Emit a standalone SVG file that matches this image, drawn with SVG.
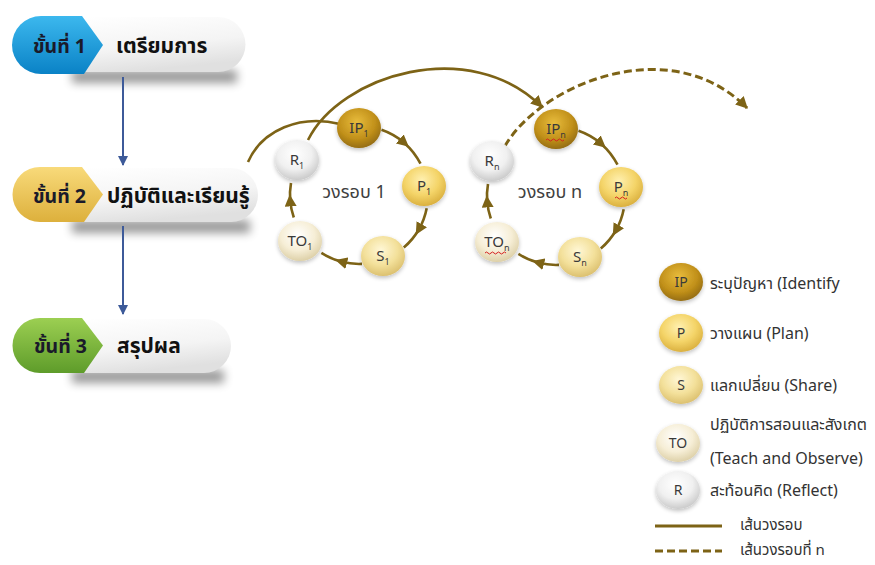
<svg xmlns="http://www.w3.org/2000/svg" width="875" height="565" viewBox="0 0 875 565">
  <defs>
    <style>
      text { font-family: "Noto Sans Thai", "Leelawadee UI", Tahoma, "DejaVu Sans", "Liberation Sans", sans-serif; }
      .step-num { font-size: 19.5px; font-weight: bold; fill: #1a1a2a; }
      .step-title { font-size: 21px; font-weight: bold; fill: #111; }
      .node-label { font-size: 15px; fill: #3a3a3a; text-anchor: middle; }
      .sub { font-size: 9px; }
      .cycle-label { font-size: 18px; fill: #404040; text-anchor: middle; }
      .legend-text { font-size: 16px; fill: #333; }
      .legend-line-text { font-size: 15px; fill: #333; }
      .loop { fill: none; stroke: #7d6316; stroke-width: 2.6; }
      .loop-mid { marker-mid: url(#midArrow); }
      .dash { stroke-dasharray: 8 4; stroke-width: 3; }
      .flow { fill: none; stroke: #3d5a99; stroke-width: 2; marker-end: url(#blueArrow); }
      .squiggle { fill: none; stroke: #d42020; stroke-width: 1; }
      .sphere { filter: url(#ballShadow); }
    </style>

    <!-- arrowheads -->
    <marker id="blueArrow" viewBox="0 0 10 10" refX="9" refY="5" markerUnits="userSpaceOnUse" markerWidth="10" markerHeight="10" orient="auto">
      <path d="M0,0 L10,5 L0,10 Z" fill="#3d5a99"/>
    </marker>
    <marker id="oliveArrow" viewBox="0 0 10 10" refX="9" refY="5" markerUnits="userSpaceOnUse" markerWidth="12" markerHeight="12" orient="auto">
      <path d="M0,0 L10,5 L0,10 Z" fill="#7d6316"/>
    </marker>
    <marker id="midArrow" viewBox="0 0 10 10" refX="5" refY="5" markerUnits="userSpaceOnUse" markerWidth="12" markerHeight="12" orient="auto">
      <path d="M0,0 L10,5 L0,10 Z" fill="#7d6316"/>
    </marker>

    <!-- step tag fills -->
    <linearGradient id="tagBlue" x1="0" y1="0" x2="0" y2="1">
      <stop offset="0" stop-color="#3cb8ee"/>
      <stop offset="1" stop-color="#0a82c6"/>
    </linearGradient>
    <linearGradient id="tagYellow" x1="0" y1="0" x2="0" y2="1">
      <stop offset="0" stop-color="#f8da7a"/>
      <stop offset="1" stop-color="#ddb03c"/>
    </linearGradient>
    <linearGradient id="tagGreen" x1="0" y1="0" x2="0" y2="1">
      <stop offset="0" stop-color="#9ccf52"/>
      <stop offset="1" stop-color="#5e9c2a"/>
    </linearGradient>
    <linearGradient id="boxFill" x1="0" y1="0" x2="0.3" y2="1">
      <stop offset="0" stop-color="#ffffff"/>
      <stop offset="0.6" stop-color="#f4f4f4"/>
      <stop offset="1" stop-color="#e0e0e0"/>
    </linearGradient>
    <filter id="boxShadow" x="-20%" y="-100%" width="140%" height="300%">
      <feGaussianBlur stdDeviation="5"/>
    </filter>
    <filter id="ballShadow" x="-30%" y="-30%" width="160%" height="170%">
      <feGaussianBlur in="SourceAlpha" stdDeviation="2"/>
      <feOffset dy="2" result="b"/>
      <feComponentTransfer><feFuncA type="linear" slope="0.25"/></feComponentTransfer>
      <feMerge><feMergeNode/><feMergeNode in="SourceGraphic"/></feMerge>
    </filter>

    <!-- sphere fills -->
    <radialGradient id="ballIP" cx="0.45" cy="0.35" r="0.7">
      <stop offset="0" stop-color="#e8bc3c"/>
      <stop offset="0.6" stop-color="#c1901a"/>
      <stop offset="1" stop-color="#8c6610"/>
    </radialGradient>
    <radialGradient id="ballP" cx="0.45" cy="0.35" r="0.7">
      <stop offset="0" stop-color="#fff0b0"/>
      <stop offset="0.55" stop-color="#f4d468"/>
      <stop offset="1" stop-color="#d6aa38"/>
    </radialGradient>
    <radialGradient id="ballS" cx="0.45" cy="0.35" r="0.7">
      <stop offset="0" stop-color="#fff7d6"/>
      <stop offset="0.55" stop-color="#f3e09a"/>
      <stop offset="1" stop-color="#d8bb68"/>
    </radialGradient>
    <radialGradient id="ballTO" cx="0.45" cy="0.35" r="0.7">
      <stop offset="0" stop-color="#ffffff"/>
      <stop offset="0.55" stop-color="#f6eed6"/>
      <stop offset="1" stop-color="#d9cba0"/>
    </radialGradient>
    <radialGradient id="ballR" cx="0.45" cy="0.35" r="0.7">
      <stop offset="0" stop-color="#ffffff"/>
      <stop offset="0.55" stop-color="#f0f0f0"/>
      <stop offset="1" stop-color="#c4c4c4"/>
    </radialGradient>
  </defs>

  <rect width="875" height="565" fill="#ffffff"/>

  <!-- process steps -->
  <g id="step1">
    <rect x="72" y="70" width="165" height="13" fill="#000" opacity="0.4" filter="url(#boxShadow)"/>
    <path d="M80,17 L218,17 A27.5,27.5 0 0 1 218,72 L80,72 Z" fill="url(#boxFill)"/>
    <path d="M41,16 L82,16 L103,45 L84,74 L41,74 A29,29 0 0 1 41,16 Z" fill="url(#tagBlue)"/>
    <text class="step-num" x="33" y="53">ขั้นที่ 1</text>
    <text class="step-title" x="116" y="53">เตรียมการ</text>
  </g>

  <g id="step2">
    <rect x="72" y="220" width="178" height="13" fill="#000" opacity="0.4" filter="url(#boxShadow)"/>
    <path d="M80,168 L231,168 A27,27 0 0 1 231,222 L80,222 Z" fill="url(#boxFill)"/>
    <path d="M40,167 L82,167 L103,194.5 L84,222 L40,222 A27.5,27.5 0 0 1 40,167 Z" fill="url(#tagYellow)"/>
    <text class="step-num" x="33" y="203">ขั้นที่ 2</text>
    <text class="step-title" x="107" y="203">ปฏิบัติและเรียนรู้</text>
  </g>

  <g id="step3">
    <rect x="72" y="370" width="152" height="13" fill="#000" opacity="0.4" filter="url(#boxShadow)"/>
    <path d="M80,319 L204,319 A27,27 0 0 1 204,373 L80,373 Z" fill="url(#boxFill)"/>
    <path d="M40,318 L82,318 L103,345.5 L84,373 L40,373 A27.5,27.5 0 0 1 40,318 Z" fill="url(#tagGreen)"/>
    <text class="step-num" x="34" y="353">ขั้นที่ 3</text>
    <text class="step-title" x="117" y="353">สรุปผล</text>
  </g>

  <!-- connectors -->
  <g id="connectors">
    <line class="flow" x1="123" y1="77" x2="123" y2="165"/>
    <line class="flow" x1="123" y1="226" x2="123" y2="314"/>

    <!-- entry from step 2 into the first loop -->
    <path class="loop" d="M248,162 C262,130 300,114 340,124"/>
    <!-- jump from R1 to the next loop -->
    <path class="loop" d="M308,140 C340,75 470,35 542,107" marker-end="url(#oliveArrow)"/>
    <!-- continuation from Rn -->
    <path class="loop dash" d="M505,146 C540,85 670,30 747,108" marker-end="url(#oliveArrow)"/>

    <!-- loop 1 -->
    <g>
      <path class="loop loop-mid" d="M381.5,129.8 A69,69 0 0 1 404.3,142.9 A69,69 0 0 1 420.5,163.7"/>
      <path class="loop loop-mid" d="M426.7,208.2 A69,69 0 0 1 418.8,229.5 A69,69 0 0 1 403.8,247.5"/>
      <path class="loop loop-mid" d="M362,263.9 A69,69 0 0 1 341.1,261.6 A69,69 0 0 1 321.4,252.9"/>
      <path class="loop loop-mid" d="M293.8,217.5 A69,69 0 0 1 290.2,200.4 A69,69 0 0 1 291,183"/>
    </g>
    <!-- loop n -->
    <g transform="translate(197,1)">
      <path class="loop loop-mid" d="M381.5,129.8 A69,69 0 0 1 404.3,142.9 A69,69 0 0 1 420.5,163.7"/>
      <path class="loop loop-mid" d="M426.7,208.2 A69,69 0 0 1 418.8,229.5 A69,69 0 0 1 403.8,247.5"/>
      <path class="loop loop-mid" d="M362,263.9 A69,69 0 0 1 341.1,261.6 A69,69 0 0 1 321.4,252.9"/>
      <path class="loop loop-mid" d="M293.8,217.5 A69,69 0 0 1 290.2,200.4 A69,69 0 0 1 291,183"/>
    </g>
  </g>

  <!-- loop 1 nodes -->
  <g id="ip1"><ellipse class="sphere" cx="359" cy="128" rx="22" ry="20" fill="url(#ballIP)"/><text class="node-label" x="359" y="133">IP<tspan class="sub" dy="4">1</tspan></text></g>
  <g id="p1"><ellipse class="sphere" cx="424" cy="186" rx="22" ry="20" fill="url(#ballP)"/><text class="node-label" x="424" y="191">P<tspan class="sub" dy="4">1</tspan></text></g>
  <g id="s1"><ellipse class="sphere" cx="383" cy="256" rx="22" ry="20" fill="url(#ballS)"/><text class="node-label" x="383" y="261">S<tspan class="sub" dy="4">1</tspan></text></g>
  <g id="to1"><ellipse class="sphere" cx="300" cy="241" rx="22" ry="20" fill="url(#ballTO)"/><text class="node-label" x="300" y="246">TO<tspan class="sub" dy="4">1</tspan></text></g>
  <g id="r1"><ellipse class="sphere" cx="297" cy="160" rx="22" ry="20" fill="url(#ballR)"/><text class="node-label" x="297" y="165">R<tspan class="sub" dy="4">1</tspan></text></g>
  <text id="loop1-label" class="cycle-label" x="354" y="198">วงรอบ 1</text>

  <!-- loop n nodes -->
  <g id="ipn"><ellipse class="sphere" cx="556" cy="129" rx="22" ry="20" fill="url(#ballIP)"/><text class="node-label" x="556" y="134">IP<tspan class="sub" dy="4">n</tspan></text><path class="squiggle" d="M546,140 q1.5,-2 3,0 t3,0 t3,0 t3,0 t3,0 t3,0"/></g>
  <g id="pn"><ellipse class="sphere" cx="621" cy="187" rx="22" ry="20" fill="url(#ballP)"/><text class="node-label" x="621" y="192">P<tspan class="sub" dy="4">n</tspan></text><path class="squiggle" d="M615,198 q1.5,-2 3,0 t3,0 t3,0 t3,0"/></g>
  <g id="sn"><ellipse class="sphere" cx="580" cy="257" rx="22" ry="20" fill="url(#ballS)"/><text class="node-label" x="580" y="262">S<tspan class="sub" dy="4">n</tspan></text></g>
  <g id="ton"><ellipse class="sphere" cx="497" cy="242" rx="22" ry="20" fill="url(#ballTO)"/><text class="node-label" x="497" y="247">TO<tspan class="sub" dy="4">n</tspan></text><path class="squiggle" d="M485,253 q1.5,-2 3,0 t3,0 t3,0 t3,0 t3,0 t3,0 t3,0"/></g>
  <g id="rn"><ellipse class="sphere" cx="492" cy="161" rx="22" ry="20" fill="url(#ballR)"/><text class="node-label" x="492" y="166">R<tspan class="sub" dy="4">n</tspan></text></g>
  <text id="loopn-label" class="cycle-label" x="550" y="198">วงรอบ n</text>

  <!-- legend -->
  <g id="legend-ip"><ellipse class="sphere" cx="681" cy="282" rx="22" ry="19" fill="url(#ballIP)"/><text class="node-label" x="681" y="287" style="font-size:14px">IP</text><text class="legend-text" x="710" y="289">ระบุปัญหา (Identify</text></g>
  <g id="legend-p"><ellipse class="sphere" cx="681" cy="333" rx="22" ry="19" fill="url(#ballP)"/><text class="node-label" x="681" y="338" style="font-size:14px">P</text><text class="legend-text" x="710" y="339">วางแผน (Plan)</text></g>
  <g id="legend-s"><ellipse class="sphere" cx="681" cy="385" rx="22" ry="19" fill="url(#ballS)"/><text class="node-label" x="681" y="390" style="font-size:14px">S</text><text class="legend-text" x="710" y="391">แลกเปลี่ยน (Share)</text></g>
  <g id="legend-to"><ellipse class="sphere" cx="678" cy="443" rx="22" ry="19" fill="url(#ballTO)"/><text class="node-label" x="678" y="448" style="font-size:14px">TO</text><text class="legend-text" x="710" y="430">ปฏิบัติการสอนและสังเกต</text><text class="legend-text" x="710" y="464">(Teach and Observe)</text></g>
  <g id="legend-r"><ellipse class="sphere" cx="678" cy="490" rx="22" ry="19" fill="url(#ballR)"/><text class="node-label" x="678" y="495" style="font-size:14px">R</text><text class="legend-text" x="710" y="496">สะท้อนคิด (Reflect)</text></g>
  <g id="legend-loop"><line class="loop" x1="655" y1="526" x2="722" y2="526" style="stroke-width:3"/><text class="legend-line-text" x="740" y="530">เส้นวงรอบ</text></g>
  <g id="legend-loop-n"><line class="loop dash" x1="655" y1="551" x2="722" y2="551"/><text class="legend-line-text" x="740" y="555">เส้นวงรอบที่ n</text></g>
</svg>
